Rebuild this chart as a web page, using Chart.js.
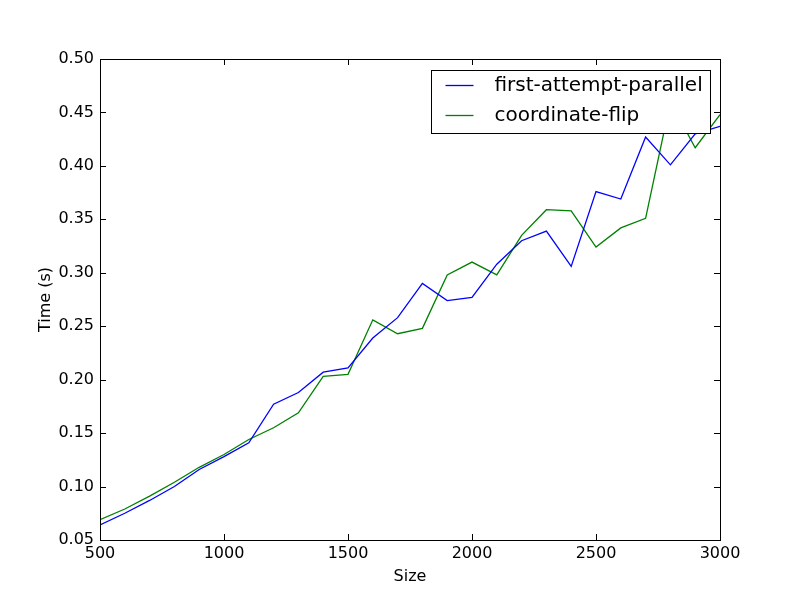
<!DOCTYPE html>
<html>
<head>
<meta charset="utf-8">
<script src="https://cdn.jsdelivr.net/npm/chart.js@4/dist/chart.umd.min.js"></script>
<style>
  html, body { margin: 0; padding: 0; background: #fff; }
  #wrap { width: 800px; height: 600px; }
</style>
</head>
<body>
<div id="wrap"><canvas id="myCanvas" width="800" height="600"></canvas></div>
<script>
// data
var sizes = [500, 600, 700, 800, 900, 1000, 1100, 1200, 1300, 1400, 1500, 1600, 1700,
             1800, 1900, 2000, 2100, 2200, 2300, 2400, 2500, 2600, 2700, 2800, 2900, 3000];
var firstAttempt = [0.064, 0.075, 0.087, 0.100, 0.116, 0.128, 0.141, 0.177, 0.188, 0.207,
                    0.211, 0.239, 0.258, 0.290, 0.274, 0.277, 0.308, 0.330, 0.339, 0.306,
                    0.376, 0.369, 0.427, 0.401, 0.430, 0.437];
var coordFlip = [0.069, 0.079, 0.091, 0.104, 0.118, 0.130, 0.144, 0.155, 0.169, 0.203,
                 0.205, 0.256, 0.243, 0.248, 0.298, 0.310, 0.298, 0.335, 0.359, 0.358,
                 0.324, 0.342, 0.351, 0.460, 0.417, 0.448];
var seriesNames = ["first-attempt-parallel", "coordinate-flip"];
var xTicks = [500, 1000, 1500, 2000, 2500, 3000];
var yTicks = [0.05, 0.10, 0.15, 0.20, 0.25, 0.30, 0.35, 0.40, 0.45, 0.50];

var font = "'DejaVu Sans', sans-serif";

function pts(vals) {
  return sizes.map(function (s, i) { return { x: s, y: vals[i] }; });
}

// frame, inward ticks on all four sides, legend box
var mplStyle = {
  id: "mplStyle",
  afterDatasetsDraw: function (chart) {
    var ctx = chart.ctx;
    var a = chart.chartArea;
    var xs = chart.scales.x, ys = chart.scales.y;
    ctx.save();
    ctx.strokeStyle = "#000";
    ctx.lineWidth = 1;
    ctx.beginPath();
    xTicks.forEach(function (t) {
      var px = Math.round(xs.getPixelForValue(t)) + 0.5;
      ctx.moveTo(px, a.bottom); ctx.lineTo(px, a.bottom - 6);
      ctx.moveTo(px, a.top); ctx.lineTo(px, a.top + 6);
    });
    yTicks.forEach(function (t) {
      var py = Math.round(ys.getPixelForValue(t)) + 0.5;
      ctx.moveTo(a.left, py); ctx.lineTo(a.left + 6, py);
      ctx.moveTo(a.right, py); ctx.lineTo(a.right - 6, py);
    });
    ctx.stroke();
    ctx.strokeRect(Math.round(a.left) + 0.5, Math.round(a.top) + 0.5,
                   Math.round(a.right - a.left), Math.round(a.bottom - a.top));

    // legend
    var bx = 431.5, by = 70.5, bw = 279, bh = 63;
    ctx.fillStyle = "#fff";
    ctx.fillRect(bx, by, bw, bh);
    ctx.strokeRect(bx, by, bw, bh);
    ctx.font = "20px " + font;
    ctx.textBaseline = "middle";
    chart.data.datasets.forEach(function (ds, i) {
      var yy = by + 15 + i * 30;
      ctx.strokeStyle = ds.borderColor;
      ctx.lineWidth = 1.3;
      ctx.beginPath();
      ctx.moveTo(bx + 14, yy); ctx.lineTo(bx + 42, yy);
      ctx.stroke();
      ctx.fillStyle = "#000";
      ctx.fillText(ds.label, bx + 63, yy);
    });
    ctx.restore();
  }
};

var chart = new Chart(document.querySelector("#myCanvas").getContext("2d"), {
  type: "line",
  data: {
    datasets: [
      { label: seriesNames[0], data: pts(firstAttempt), borderColor: "#0000ff",
        borderWidth: 1.3, pointRadius: 0, tension: 0, fill: false },
      { label: seriesNames[1], data: pts(coordFlip), borderColor: "#008000",
        borderWidth: 1.3, pointRadius: 0, tension: 0, fill: false }
    ]
  },
  plugins: [mplStyle],
  options: {
    responsive: false,
    animation: false,
    layout: { padding: { top: 59, right: 80, left: 32, bottom: 10 } },
    plugins: { legend: { display: false }, tooltip: { enabled: false } },
    scales: {
      x: {
        type: "linear", min: 500, max: 3000,
        grid: { display: false },
        border: { display: false },
        afterFit: function (s) { s.height = 50; },
        afterBuildTicks: function (s) { s.ticks = xTicks.map(function (v) { return { value: v }; }); },
        ticks: { color: "#000", padding: -4, maxRotation: 0, font: { family: font, size: 16 },
                 callback: function (v) { return String(v); } },
        title: { display: true, text: "Size", color: "#000", padding: { top: 0 },
                 font: { family: font, size: 16 } }
      },
      y: {
        min: 0.05, max: 0.50,
        grid: { display: false },
        border: { display: false },
        afterFit: function (s) { s.width = 68; },
        afterBuildTicks: function (s) { s.ticks = yTicks.map(function (v) { return { value: v }; }); },
        ticks: { color: "#000", padding: -2, font: { family: font, size: 16 },
                 callback: function (v) { return v.toFixed(2); } },
        title: { display: true, text: "Time (s)", color: "#000", padding: { bottom: 4 },
                 font: { family: font, size: 16 } }
      }
    }
  }
});
</script>
</body>
</html>
